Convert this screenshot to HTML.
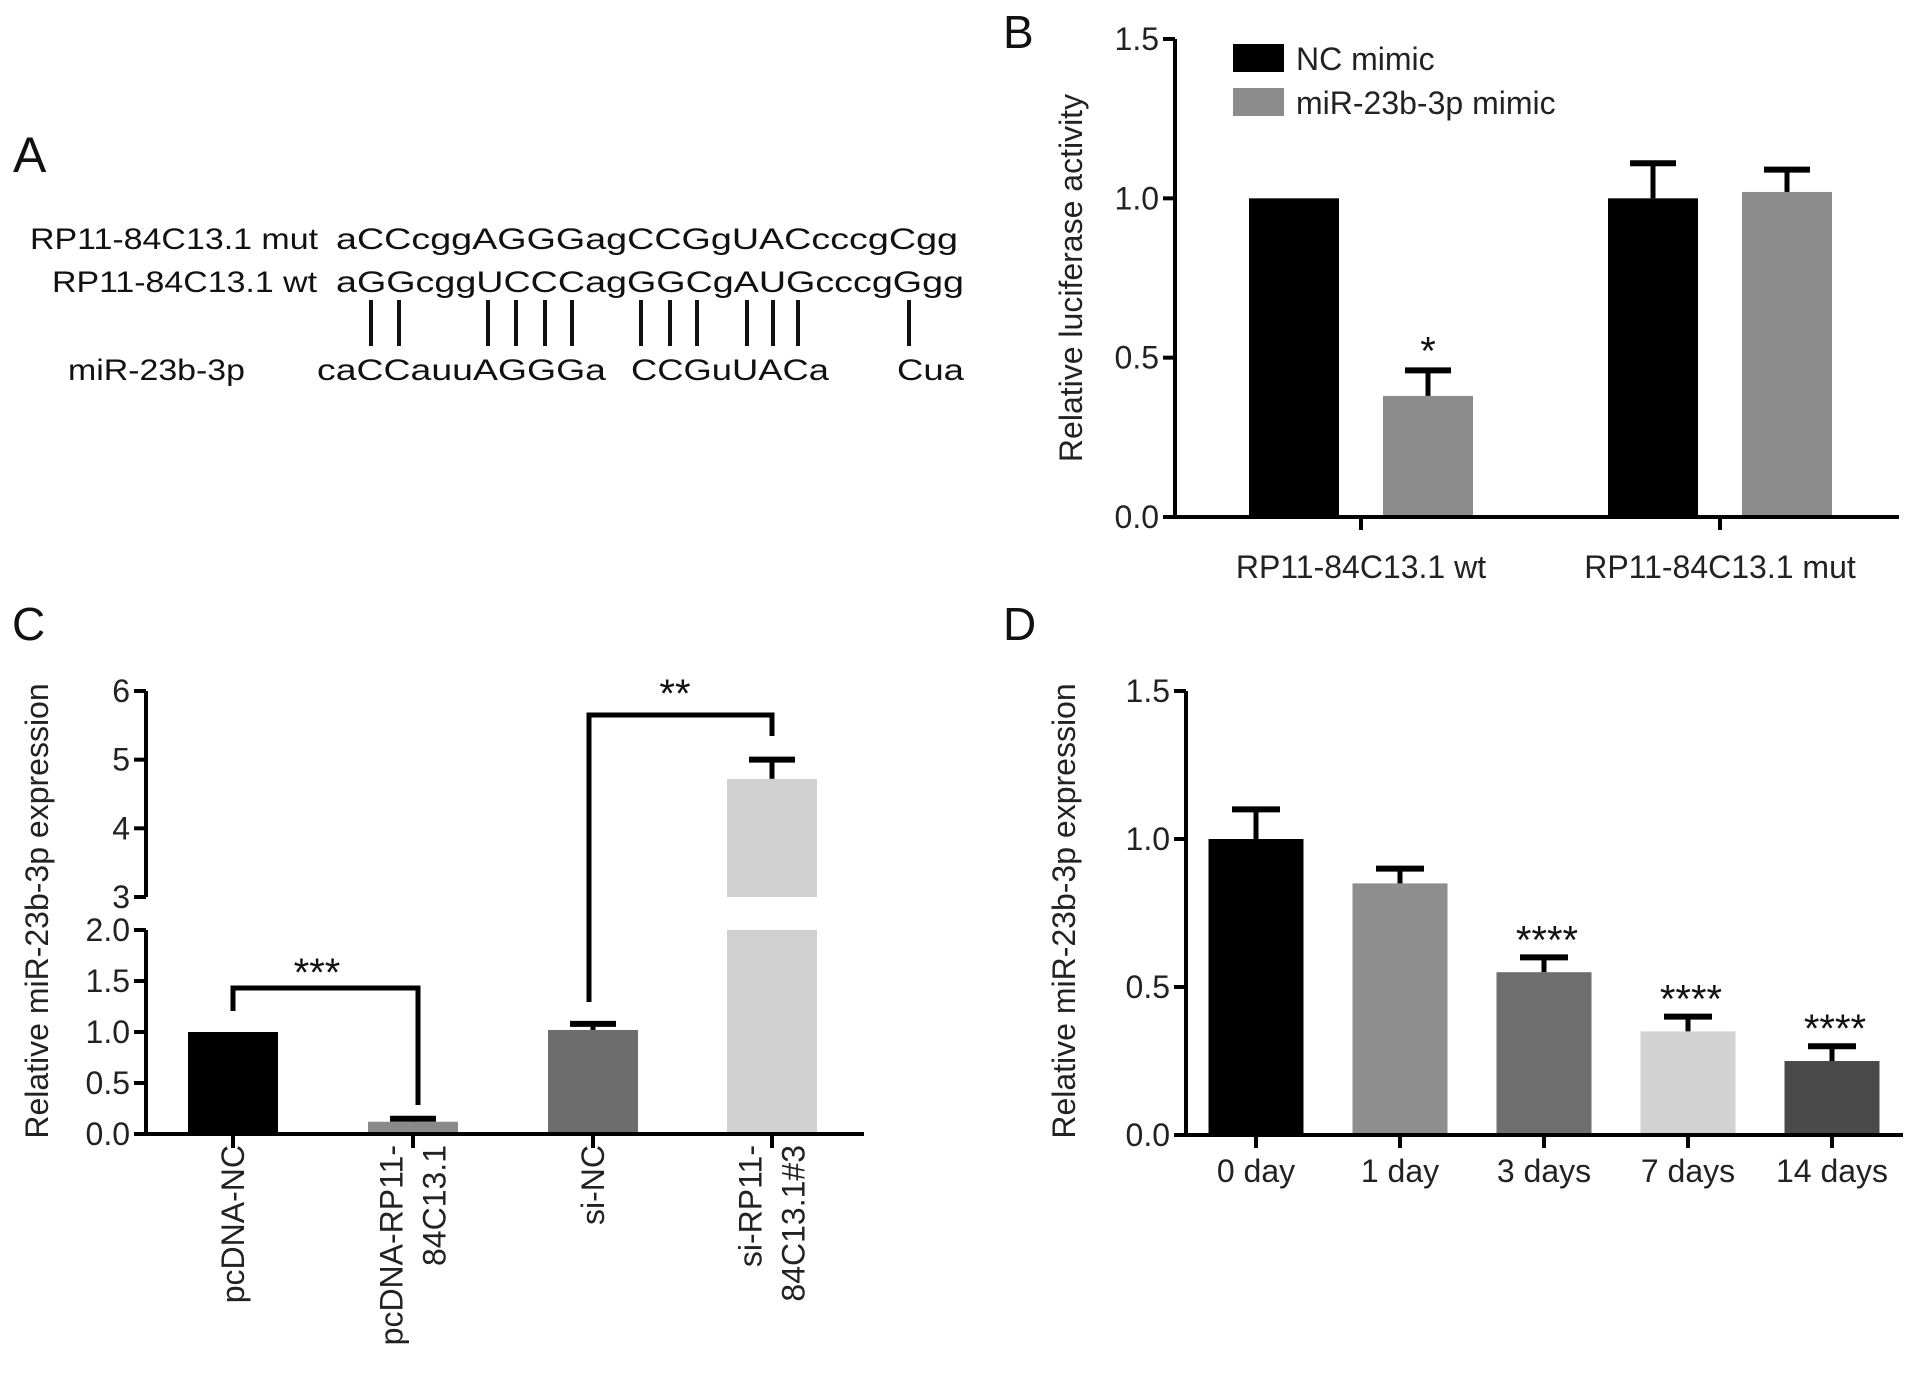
<!DOCTYPE html>
<html><head><meta charset="utf-8"><style>
html,body{margin:0;padding:0;background:#fff;}
svg{display:block;font-family:"Liberation Sans",Arial,sans-serif;}
</style></head><body>
<svg id="fig" width="1913" height="1381" viewBox="0 0 1913 1381">
<g font-size="30" fill="#111">
<text x="13" y="172" font-size="50">A</text>
<text x="30" y="249" textLength="288" lengthAdjust="spacingAndGlyphs">RP11-84C13.1 mut</text>
<text x="336" y="249" textLength="622" lengthAdjust="spacingAndGlyphs">aCCcggAGGGagCCGgUACcccgCgg</text>
<text x="52" y="292" textLength="265" lengthAdjust="spacingAndGlyphs">RP11-84C13.1 wt</text>
<text x="336" y="292" textLength="628" lengthAdjust="spacingAndGlyphs">aGGcggUCCCagGGCgAUGcccgGgg</text>
<text x="68" y="380" textLength="177" lengthAdjust="spacingAndGlyphs">miR-23b-3p</text>
<text x="317" y="380" textLength="289" lengthAdjust="spacingAndGlyphs">caCCauuAGGGa</text>
<text x="631" y="380" textLength="198" lengthAdjust="spacingAndGlyphs">CCGuUACa</text>
<text x="897" y="380" textLength="67" lengthAdjust="spacingAndGlyphs">Cua</text>
<g id="pairs" stroke="#111" stroke-width="4"></g>
</g>
<g id="pb"></g>
<g id="pc"></g>
<g id="pd"></g>
</svg>
<script>
// Panel B data
const bCategories = ["RP11-84C13.1 wt", "RP11-84C13.1 mut"];
const bSeries = ["NC mimic", "miR-23b-3p mimic"];
const bNC = [1.0, 1.0];
const bNCerr = [0.0, 0.11];
const bMiR = [0.38, 1.02];
const bMiRerr = [0.08, 0.07];
const bTicks = ["0.0", "0.5", "1.0", "1.5"];
const bStars = ["*", ""];
// Panel C data
const cCategories = [["pcDNA-NC"], ["pcDNA-RP11-", "84C13.1"], ["si-NC"], ["si-RP11-", "84C13.1#3"]];
const cValues = [1.0, 0.12, 1.02, 4.72];
const cErr = [0.0, 0.03, 0.06, 0.28];
const cLowTicks = ["0.0", "0.5", "1.0", "1.5", "2.0"];
const cHighTicks = ["3", "4", "5", "6"];
// Panel D data
const dCategories = ["0 day", "1 day", "3 days", "7 days", "14 days"];
const dValues = [1.0, 0.85, 0.55, 0.35, 0.25];
const dErr = [0.1, 0.05, 0.05, 0.05, 0.05];
const dStars = ["", "", "****", "****", "****"];
const dTicks = ["0.0", "0.5", "1.0", "1.5"];
// Panel A pairing positions (structure, not data)
const pairX = [371,399,488,516,545,572,641,670,697,747,773,798,909];

const FS = 32;
const NS = "http://www.w3.org/2000/svg";
function mk(parent, tag, attrs, text) {
  const e = document.createElementNS(NS, tag);
  for (const k in attrs) e.setAttribute(k, attrs[k]);
  if (text !== undefined) e.textContent = text;
  parent.appendChild(e);
  return e;
}
pairX.forEach((x) => {
  const l = mk(document.getElementById('pairs'), 'line', {x1:x, x2:x, y1:300, y2:346});
  
  
});
function errBar(g, cx, yTop, yErr, w) {
  const v = mk(g, 'line', {x1:cx, x2:cx, y1:yTop, y2:yErr, stroke:'#000', 'stroke-width':5});
  
  
  const c = mk(g, 'line', {x1:cx-w/2, x2:cx+w/2, y1:yErr, y2:yErr, stroke:'#000', 'stroke-width':6});
  
  
}

// ---------- Panel B ----------
(function(){
  const g = document.getElementById('pb');
  const ax = 1175, y0 = 517, y15 = 39, xEnd = 1899;
  const y = v => y0 - (v/1.5)*(y0-y15);
  let t = mk(g,'text',{x:1003,y:48,'font-size':46,fill:'#111'},'B');
   
  bTicks.forEach((s,i)=>{
    const v = parseFloat(s);
    const tk = mk(g,'line',{x1:ax-12,x2:ax,y1:y(v),y2:y(v),stroke:'#000','stroke-width':4});
     
    const tl = mk(g,'text',{x:ax-16,y:y(v)+11,'text-anchor':'end','font-size':FS,fill:'#222'},s);
     
  });
  const groupC = [1361, 1720];
  const bw = 90, off = 67;
  bCategories.forEach((c,i)=>{
    const cx = groupC[i];
    const x1 = cx - off, x2 = cx + off;
    if (bNCerr[i] > 0) errBar(g, x1, y(bNC[i]), y(bNC[i]+bNCerr[i]), 46);
    if (bMiRerr[i] > 0) errBar(g, x2, y(bMiR[i]), y(bMiR[i]+bMiRerr[i]), 46);
    const r1 = mk(g,'rect',{x:x1-bw/2,y:y(bNC[i]),width:bw,height:y0-y(bNC[i]),fill:'#000'});
     
    const r2 = mk(g,'rect',{x:x2-bw/2,y:y(bMiR[i]),width:bw,height:y0-y(bMiR[i]),fill:'#8c8c8c'});
     
    if (bStars[i]) {
      const st = mk(g,'text',{x:x2,y:y(bMiR[i]+bMiRerr[i])-6,'text-anchor':'middle','font-size':40,fill:'#111'},bStars[i]);
       
    }
    const tk = mk(g,'line',{x1:cx,x2:cx,y1:y0,y2:y0+13,stroke:'#000','stroke-width':4});
     
    const tl = mk(g,'text',{x:cx,y:578,'text-anchor':'middle','font-size':FS,fill:'#222'},c);
     
  });
  const ya = mk(g,'line',{x1:ax,x2:ax,y1:y15,y2:y0+2,stroke:'#000','stroke-width':4});
   
  const xa = mk(g,'line',{x1:ax-2,x2:xEnd,y1:y0,y2:y0,stroke:'#000','stroke-width':4});
   
  const yt = mk(g,'text',{x:0,y:0,transform:'translate(1082,278) rotate(-90)','text-anchor':'middle','font-size':FS,fill:'#222'},'Relative luciferase activity');
   
  const colors = ['#000','#8c8c8c'];
  bSeries.forEach((s,i)=>{
    const ly = 44 + i*44;
    const lr = mk(g,'rect',{x:1233,y:ly,width:51,height:28,fill:colors[i]});
     
    const lt = mk(g,'text',{x:1296,y:ly+26,'font-size':FS,fill:'#222'},s);
     
  });
})();

// ---------- Panel C ----------
(function(){
  const g = document.getElementById('pc');
  const ax = 146, y0 = 1134, y2 = 930, y3 = 897, y6 = 691, xEnd = 864;
  const yl = v => y0 - v/2*(y0-y2);
  const yh = v => y3 - (v-3)/3*(y3-y6);
  const y = v => v <= 2 ? yl(v) : (v >= 3 ? yh(v) : null);
  let t = mk(g,'text',{x:12,y:640,'font-size':46,fill:'#111'},'C');
   
  cLowTicks.forEach(s=>{
    const v = parseFloat(s);
    const tk = mk(g,'line',{x1:ax-12,x2:ax,y1:yl(v),y2:yl(v),stroke:'#000','stroke-width':4});
     
    const tl = mk(g,'text',{x:ax-16,y:yl(v)+11,'text-anchor':'end','font-size':FS,fill:'#222'},s);
     
  });
  cHighTicks.forEach(s=>{
    const v = parseFloat(s);
    const tk = mk(g,'line',{x1:ax-12,x2:ax,y1:yh(v),y2:yh(v),stroke:'#000','stroke-width':4});
     
    const tl = mk(g,'text',{x:ax-16,y:yh(v)+11,'text-anchor':'end','font-size':FS,fill:'#222'},s);
     
  });
  const colors = ['#000','#8a8a8a','#6d6d6d','#d0d0d0'];
  const centers = [233, 413, 593, 772];
  const bw = 90;
  cValues.forEach((v,i)=>{
    const cx = centers[i];
    if (cErr[i] > 0) errBar(g, cx, y(v), y(v+cErr[i]), 46);
    if (v <= 2) {
      const r = mk(g,'rect',{x:cx-bw/2,y:yl(v),width:bw,height:y0-yl(v),fill:colors[i]});
       
    } else {
      const r = mk(g,'rect',{x:cx-bw/2,y:yl(2),width:bw,height:y0-yl(2),fill:colors[i]});
       
      const r2 = mk(g,'rect',{x:cx-bw/2,y:yh(v),width:bw,height:y3-yh(v),fill:colors[i]});
       
    }
    const tk = mk(g,'line',{x1:cx,x2:cx,y1:y0,y2:y0+14,stroke:'#000','stroke-width':4});
     
    const lines = cCategories[i];
    lines.forEach((s,j)=>{
      const lx = cx + (j - (lines.length-1)/2)*43 + 11;
      const tl = mk(g,'text',{x:0,y:0,transform:`translate(${lx},1145) rotate(-90)`,'text-anchor':'end','font-size':FS,fill:'#222'},s);
       
    });
  });
  const ya1 = mk(g,'line',{x1:ax,x2:ax,y1:y2,y2:y0+2,stroke:'#000','stroke-width':4});
   
  const ya2 = mk(g,'line',{x1:ax,x2:ax,y1:y6,y2:y3,stroke:'#000','stroke-width':4});
   
  const xa = mk(g,'line',{x1:ax-2,x2:xEnd,y1:y0,y2:y0,stroke:'#000','stroke-width':4});
   
  const b1 = mk(g,'polyline',{points:`${centers[0]},1011 ${centers[0]},988 ${centers[1]+5},988 ${centers[1]+5},1105`,fill:'none',stroke:'#000','stroke-width':5});
   
  const s1 = mk(g,'text',{x:317,y:986,'text-anchor':'middle','font-size':40,fill:'#111'},'***');
   
  const b2 = mk(g,'polyline',{points:`${centers[2]-4},1002 ${centers[2]-4},715 ${centers[3]},715 ${centers[3]},736`,fill:'none',stroke:'#000','stroke-width':5});
   
  const s2 = mk(g,'text',{x:675,y:707,'text-anchor':'middle','font-size':40,fill:'#111'},'**');
   
  const yt = mk(g,'text',{x:0,y:0,transform:'translate(48,911) rotate(-90)','text-anchor':'middle','font-size':FS,fill:'#222'},'Relative miR-23b-3p expression');
   
})();

// ---------- Panel D ----------
(function(){
  const g = document.getElementById('pd');
  const ax = 1186, y0 = 1135, y15 = 691, xEnd = 1903;
  const y = v => y0 - (v/1.5)*(y0-y15);
  let t = mk(g,'text',{x:1003,y:640,'font-size':46,fill:'#111'},'D');
   
  dTicks.forEach(s=>{
    const v = parseFloat(s);
    const tk = mk(g,'line',{x1:ax-12,x2:ax,y1:y(v),y2:y(v),stroke:'#000','stroke-width':4});
     
    const tl = mk(g,'text',{x:ax-16,y:y(v)+11,'text-anchor':'end','font-size':FS,fill:'#222'},s);
     
  });
  const colors = ['#000','#8e8e8e','#6e6e6e','#d2d2d2','#4a4a4a'];
  const x0 = 1256, step = 144, bw = 95;
  dValues.forEach((v,i)=>{
    const cx = x0 + i*step;
    errBar(g, cx, y(v), y(v+dErr[i]), 48);
    const r = mk(g,'rect',{x:cx-bw/2,y:y(v),width:bw,height:y0-y(v),fill:colors[i]});
     
    if (dStars[i]) {
      const st = mk(g,'text',{x:cx+3,y:y(v+dErr[i])-4,'text-anchor':'middle','font-size':40,fill:'#111'},dStars[i]);
       
    }
    const tk = mk(g,'line',{x1:cx,x2:cx,y1:y0,y2:y0+13,stroke:'#000','stroke-width':4});
     
    const tl = mk(g,'text',{x:cx,y:1182,'text-anchor':'middle','font-size':FS,fill:'#222'},dCategories[i]);
     
  });
  const ya = mk(g,'line',{x1:ax,x2:ax,y1:y15,y2:y0+2,stroke:'#000','stroke-width':4});
   
  const xa = mk(g,'line',{x1:ax-2,x2:xEnd,y1:y0,y2:y0,stroke:'#000','stroke-width':4});
   
  const yt = mk(g,'text',{x:0,y:0,transform:'translate(1075,911) rotate(-90)','text-anchor':'middle','font-size':FS,fill:'#222'},'Relative miR-23b-3p expression');
   
})();
</script>
</body></html>
